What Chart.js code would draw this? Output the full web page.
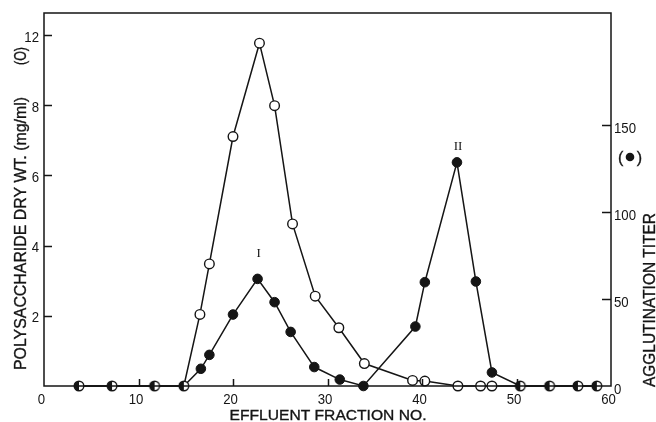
<!DOCTYPE html>
<html>
<head>
<meta charset="utf-8">
<script src="https://cdn.jsdelivr.net/npm/chart.js@4.4.1/dist/chart.umd.min.js"></script>
<style>
  html, body { margin: 0; padding: 0; background: #ffffff; }
  #wrap { width: 656px; height: 422px; position: relative; }
</style>
</head>
<body>
<div id="wrap"><canvas id="c" width="656" height="422"></canvas></div>
<script>
// ---------------- data ----------------
const FRACTION_OPEN   = [3.7, 7.2, 11.7, 14.8, 16.5, 17.5, 20.0, 22.8, 24.4, 26.3, 28.7, 31.2, 33.9, 39.0, 40.3, 43.8, 46.2, 47.4, 50.4, 53.5, 56.5, 58.5];
const POLYSACCHARIDE  = [0, 0, 0, 0, 2.04, 3.48, 7.11, 9.77, 7.99, 4.62, 2.56, 1.66, 0.64, 0.16, 0.14, 0, 0, 0, 0, 0, 0, 0];

const FRACTION_FILLED = [3.7, 7.2, 11.7, 14.8, 16.6, 17.5, 20.0, 22.6, 24.4, 26.1, 28.6, 31.3, 33.8, 39.3, 40.3, 43.7, 45.7, 47.4, 50.4, 53.5, 56.5, 58.5];
const AGGLUTINATION   = [0, 0, 0, 0, 9.9, 17.9, 41.1, 61.6, 48.2, 31.1, 10.9, 3.7, 0, 34.2, 59.7, 128.6, 60.1, 7.8, 0, 0, 0, 0];

// fractions where both curves sit at zero (half-filled markers)
const SHARED_FRACTIONS = [3.7, 7.2, 11.7, 14.8, 50.4, 53.5, 56.5, 58.5];

// tick values and their printed labels
const X_TICKS        = [0, 10, 20, 30, 40, 50, 60];
const X_TICK_LABELS  = ['0', '10', '20', '30', '40', '50', '60'];
const LEFT_TICKS     = [2, 4, 6, 8, 10];
const LEFT_TICK_LABELS = ['2', '4', '6', '8', '12'];
const RIGHT_TICKS    = [0, 50, 100, 150];
const RIGHT_TICK_LABELS = ['0', '50', '100', '150'];

// peak labels: [label, index into AGGLUTINATION]
const PEAK_NAMES   = ['I', 'II'];
const PEAK_INDICES = [7, 15];

// texts
const X_TITLE = 'EFFLUENT FRACTION NO.';
const LEFT_TITLE = 'POLYSACCHARIDE DRY WT. (mg/ml)';
const LEFT_SYMBOL = '(O)';
const RIGHT_TITLE = 'AGGLUTINATION TITER';

// ---------------- drawing ----------------
const INK = '#151515';
const SANS = '"Liberation Sans", Arial, sans-serif';

function halfMarker() {
  const s = 14, c = 7, r = 4.8;
  const cv = document.createElement('canvas');
  cv.width = s; cv.height = s;
  const g = cv.getContext('2d');
  g.fillStyle = '#fff';
  g.beginPath(); g.arc(c, c, r, 0, Math.PI * 2); g.fill();
  g.fillStyle = INK;
  g.beginPath(); g.moveTo(c, c); g.arc(c, c, r, Math.PI / 2, Math.PI * 1.5); g.closePath(); g.fill();
  g.strokeStyle = INK; g.lineWidth = 1.4;
  g.beginPath(); g.arc(c, c, r, 0, Math.PI * 2); g.stroke();
  return cv;
}

function pts(xs, ys) { return xs.map((x, i) => ({ x: x, y: ys[i] })); }
const isShared = (x) => SHARED_FRACTIONS.includes(x);

function fitText(ctx, text, cx, cy, width, size, rot, family) {
  ctx.save();
  ctx.translate(cx, cy);
  ctx.rotate(rot);
  ctx.font = size + 'px ' + (family || SANS);
  const w = ctx.measureText(text).width;
  ctx.scale(width / w, 1);
  ctx.textAlign = 'center';
  ctx.textBaseline = 'alphabetic';
  ctx.lineWidth = 0.35;
  ctx.fillText(text, 0, size * 0.36);
  ctx.strokeText(text, 0, size * 0.36);
  ctx.restore();
}

function label(ctx, text, x, cy, align, size, sx) {
  ctx.save();
  ctx.font = size + 'px ' + SANS;
  ctx.translate(x, cy);
  ctx.scale(sx, 1);
  ctx.textAlign = align;
  ctx.textBaseline = 'alphabetic';
  ctx.fillText(text, 0, size * 0.36);
  ctx.restore();
}

const decor = {
  id: 'decor',
  afterDatasetsDraw(chart) {
    const ctx = chart.ctx;
    const a = chart.chartArea;
    const xs = chart.scales.x, yl = chart.scales.yL, yr = chart.scales.yR;
    ctx.save();
    ctx.strokeStyle = INK;
    ctx.fillStyle = INK;
    ctx.lineWidth = 1.5;
    // frame
    ctx.strokeRect(a.left, a.top, a.right - a.left, a.bottom - a.top);
    // ticks (inward)
    ctx.beginPath();
    X_TICKS.forEach(v => {
      if (v === 0 || v === 60) return;
      const px = Math.round(xs.getPixelForValue(v)) + 0.5;
      ctx.moveTo(px, a.bottom); ctx.lineTo(px, a.bottom - 7);
    });
    LEFT_TICKS.forEach(v => {
      const py = Math.round(yl.getPixelForValue(v)) + 0.5;
      ctx.moveTo(a.left, py); ctx.lineTo(a.left + 8, py);
    });
    RIGHT_TICKS.forEach(v => {
      if (v === 0) return;
      const py = Math.round(yr.getPixelForValue(v)) + 0.5;
      ctx.moveTo(a.right, py); ctx.lineTo(a.right - 9, py);
    });
    ctx.stroke();

    // tick labels
    X_TICKS.forEach((v, i) => {
      label(ctx, X_TICK_LABELS[i], xs.getPixelForValue(v) - 2.5, a.bottom + 13, 'center', 15, 0.88);
    });
    LEFT_TICKS.forEach((v, i) => {
      label(ctx, LEFT_TICK_LABELS[i], a.left - 5, yl.getPixelForValue(v) + 1, 'right', 15, 0.88);
    });
    RIGHT_TICKS.forEach((v, i) => {
      label(ctx, RIGHT_TICK_LABELS[i], a.right + 3, yr.getPixelForValue(v) + 2.5, 'left', 15, 0.88);
    });

    // axis titles
    fitText(ctx, X_TITLE, 328, 414.5, 197, 15, 0);
    fitText(ctx, LEFT_TITLE, 20, 233.5, 273, 16, -Math.PI / 2);
    fitText(ctx, LEFT_SYMBOL, 20, 56, 18, 16, -Math.PI / 2);
    fitText(ctx, RIGHT_TITLE, 649, 300, 174, 16, -Math.PI / 2);

    // (●) symbol on the right
    const sx = 630, sy = 157;
    fitText(ctx, '(   )', sx, sy, 24, 16, 0);
    ctx.beginPath(); ctx.arc(sx, sy, 4.3, 0, Math.PI * 2); ctx.fill();

    // peak labels
    PEAK_NAMES.forEach((n, i) => {
      const k = PEAK_INDICES[i];
      const px = xs.getPixelForValue(FRACTION_FILLED[k]);
      const py = yr.getPixelForValue(AGGLUTINATION[k]);
      ctx.font = '13px "Liberation Serif", serif';
      ctx.textAlign = 'center';
      ctx.textBaseline = 'middle';
      ctx.fillText(n, px + 1, py - (i === 0 ? 25 : 16));
    });
    ctx.restore();
  }
};

const HALF = halfMarker();

new Chart(document.getElementById('c'), {
  type: 'scatter',
  data: {
    datasets: [
      {
        label: 'Polysaccharide',
        data: pts(FRACTION_OPEN, POLYSACCHARIDE),
        yAxisID: 'yL',
        showLine: true,
        borderColor: INK,
        borderWidth: 1.5,
        backgroundColor: '#ffffff',
        pointBackgroundColor: '#ffffff',
        pointBorderColor: INK,
        pointBorderWidth: 1.4,
        pointRadius: (c) => isShared(c.raw && c.raw.x) ? 0 : 4.8,
        tension: 0,
        order: 2
      },
      {
        label: 'Agglutination titer',
        data: pts(FRACTION_FILLED, AGGLUTINATION),
        yAxisID: 'yR',
        showLine: true,
        borderColor: INK,
        borderWidth: 1.5,
        backgroundColor: INK,
        pointBackgroundColor: INK,
        pointBorderColor: INK,
        pointBorderWidth: 1,
        pointRadius: (c) => isShared(c.raw && c.raw.x) ? 0 : 4.8,
        tension: 0,
        order: 1
      },
      {
        label: 'Both zero',
        data: SHARED_FRACTIONS.map(x => ({ x: x, y: 0 })),
        yAxisID: 'yL',
        showLine: false,
        pointStyle: HALF,
        pointRadius: 5,
        order: 0
      }
    ]
  },
  options: {
    responsive: false,
    animation: false,
    events: [],
    clip: false,
    layout: { padding: { left: 44, top: 13, right: 45, bottom: 36 } },
    plugins: { legend: { display: false }, tooltip: { enabled: false } },
    scales: {
      x: { type: 'linear', min: 0, max: 60, display: false },
      yL: { type: 'linear', position: 'left', min: 0, max: 10.63, display: false },
      yR: { type: 'linear', position: 'right', min: 0, max: 214.5, display: false }
    }
  },
  plugins: [decor]
});
</script>
</body>
</html>
